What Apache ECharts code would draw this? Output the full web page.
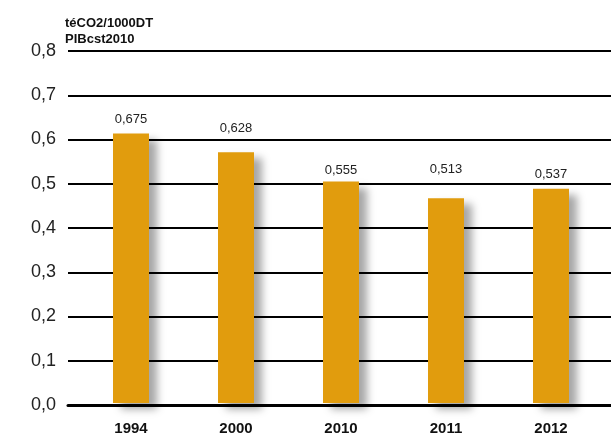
<!DOCTYPE html>
<html>
<head>
<meta charset="utf-8">
<script src="https://cdn.jsdelivr.net/npm/echarts@6/dist/echarts.min.js"></script>
<style>
  html, body { margin: 0; padding: 0; background: #fff; }
  #chart { width: 611px; height: 436px; }
</style>
</head>
<body>
<div id="chart"></div>
<script>
// Carbon intensity: tonnes eq. CO2 per 1000 DT of GDP (constant 2010 prices)
const years = ['1994', '2000', '2010', '2011', '2012'];
const intensity = [0.675, 0.628, 0.555, 0.513, 0.537];
const tickValues = [0, 0.1, 0.2, 0.3, 0.4, 0.5, 0.6, 0.7, 0.8];
const unitLines = ['téCO2/1000DT', 'PIBcst2010'];

const fmt = v => v.toFixed(1).replace('.', ',');
const fmt3 = v => v.toFixed(3).replace('.', ',');

// value labels are lifted clear of the gridlines where they would cross one
const labelLift = [8, 17.5, 4.5, 22.5, 7.5];

const chart = echarts.init(document.getElementById('chart'), null, { renderer: 'canvas' });

chart.setOption({
  animation: false,
  backgroundColor: '#ffffff',
  textStyle: { fontFamily: 'Liberation Sans, Arial, sans-serif' },
  title: {
    text: unitLines.join('\n'),
    left: 65,
    top: 15,
    padding: 0,
    textStyle: { fontSize: 13, fontWeight: 'bold', color: '#111', lineHeight: 16 }
  },
  grid: [
    { left: 68, right: 0, top: 51, bottom: 31 },
    { left: 78.5, right: 7.5, top: 51, bottom: 31 }
  ],
  xAxis: [
    {
      gridIndex: 0, type: 'category', data: years,
      axisLine: { show: true, lineStyle: { color: '#000', width: 3 } },
      axisTick: { show: false }, axisLabel: { show: false }, splitLine: { show: false }
    },
    {
      gridIndex: 1, type: 'category', data: years,
      axisLine: { show: false }, axisTick: { show: false },
      axisLabel: { fontSize: 15, fontWeight: 'bold', color: '#111', margin: 18 }
    }
  ],
  yAxis: [
    {
      gridIndex: 0, type: 'value', min: 0, max: 0.8, interval: 0.1,
      axisLine: { show: false }, axisTick: { show: false },
      axisLabel: {
        fontSize: 18, color: '#222', margin: 12,
        formatter: v => tickValues.some(t => Math.abs(t - v) < 1e-9) ? fmt(v) : '',
        padding: [0, 0, 10, 0]
      },
      splitLine: { show: true, lineStyle: { color: '#000', width: 2 } }
    },
    {
      gridIndex: 1, type: 'value', min: 0, max: 0.882, show: false,
      splitLine: { show: false }
    }
  ],
  series: [
    {
      type: 'bar',
      xAxisIndex: 1, yAxisIndex: 1,
      data: intensity.map((v, i) => ({ value: v, label: { distance: labelLift[i] } })),
      barWidth: 36,
      itemStyle: {
        color: '#E19C0D',
        shadowColor: 'rgba(0,0,0,0.35)',
        shadowBlur: 8,
        shadowOffsetX: 8,
        shadowOffsetY: 6
      },
      label: {
        show: true, position: 'top',
        fontSize: 13, color: '#222',
        formatter: p => fmt3(p.value)
      }
    }
  ]
});
</script>
</body>
</html>
